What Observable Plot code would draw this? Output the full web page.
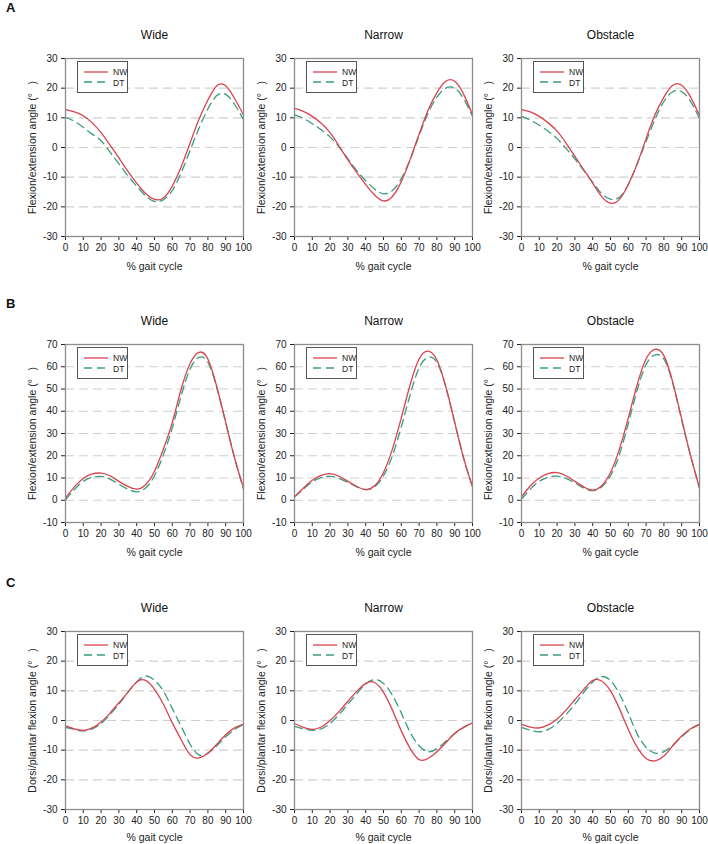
<!DOCTYPE html>
<html><head><meta charset="utf-8">
<script src="https://cdn.jsdelivr.net/npm/d3@7"></script>
<script src="https://cdn.jsdelivr.net/npm/@observablehq/plot@0.6"></script>
<style>
body{margin:0;background:#fff;font-family:"Liberation Sans",Arial,sans-serif;}
#fig{position:relative;width:708px;height:844px;overflow:hidden;}
.panel{position:absolute;}
.letter{position:absolute;font-weight:bold;font-size:13px;color:#111;}
.legend{position:absolute;width:51px;height:32px;border:1px solid #555;background:#fff;box-sizing:border-box;}
.legend svg{display:block;overflow:visible;}
</style></head><body><div id="fig"></div>
<script>
// ---- data ----
const gait = [0,5,10,15,20,25,30,35,40,45,50,55,60,65,70,75,80,85,90,95,100];
const conditions = ["Wide","Narrow","Obstacle"];
const seriesNames = ["NW","DT"];
const rowLetters = ["A","B","C"];
const yLabels = ["Flexion/extension angle (°\u00a0\u00a0\u00a0)","Flexion/extension angle (°\u00a0\u00a0\u00a0)","Dorsi/plantar flexion angle (°\u00a0\u00a0\u00a0)"];
const xTicks = [0,10,20,30,40,50,60,70,80,90,100];
const yTicksAC = [-30,-20,-10,0,10,20,30];
const yTicksB = [-10,0,10,20,30,40,50,60,70];

// Row A
const hipWideNW = [12.8,12.0,10.7,8.3,5.0,0.8,-3.5,-8.0,-12.0,-15.5,-17.5,-17.0,-13.0,-6.5,1.5,9.5,16.0,20.8,20.8,16.5,11.0];
const hipWideDT = [10.2,8.8,6.8,4.5,2.3,-1.5,-5.5,-9.5,-13.0,-16.3,-18.2,-17.6,-14.5,-8.5,-1.0,6.5,13.0,17.5,17.9,14.5,9.5];
const hipNarrowNW = [13.2,12.2,10.5,8.2,5.0,0.5,-4.2,-8.5,-12.5,-16.0,-18.0,-16.5,-11.5,-4.0,4.5,12.5,18.5,22.3,22.3,18.0,11.0];
const hipNarrowDT = [11.0,9.8,8.0,6.0,3.5,0.3,-3.8,-7.8,-11.2,-14.0,-15.6,-14.5,-10.5,-4.0,4.0,11.5,17.0,20.0,20.0,16.5,10.5];
const hipObstacleNW = [12.8,12.0,10.5,8.3,5.5,1.5,-3.0,-7.5,-12.0,-16.5,-18.8,-17.5,-12.5,-5.5,3.0,11.0,17.0,21.0,21.0,17.0,10.8];
const hipObstacleDT = [10.5,9.2,7.5,5.5,3.0,-0.3,-3.8,-7.8,-11.8,-15.5,-17.4,-16.8,-12.5,-5.5,2.0,9.5,15.5,18.8,18.8,15.5,9.8];
// Row B
const kneeWideNW = [1.0,6.0,9.8,11.8,12.2,11.0,8.5,6.2,5.0,7.0,13.0,23.0,35.0,50.0,61.5,66.5,63.5,51.0,35.0,19.0,5.5];
const kneeWideDT = [0.2,4.8,8.5,10.3,10.7,9.5,7.2,5.0,3.8,5.5,11.0,20.5,32.5,47.0,59.0,64.2,62.0,50.5,35.0,19.0,5.0];
const kneeNarrowNW = [1.5,5.5,9.0,11.2,12.0,10.8,8.5,6.2,4.8,6.5,12.5,23.0,37.0,52.0,63.5,67.0,63.0,51.0,35.0,19.0,6.0];
const kneeNarrowDT = [1.5,5.0,8.3,10.2,10.7,9.8,8.0,6.0,4.8,6.0,11.0,20.0,33.0,47.5,59.5,64.2,62.0,51.0,35.0,19.0,6.0];
const kneeObstacleNW = [1.5,6.5,10.0,12.0,12.4,11.0,8.5,6.0,4.5,6.5,12.5,23.0,37.0,52.0,63.5,67.8,65.0,53.0,36.5,20.0,5.5];
const kneeObstacleDT = [0.5,5.0,8.5,10.3,10.8,9.8,7.8,5.5,4.3,6.0,11.0,20.5,34.5,49.5,61.0,65.3,63.5,52.5,36.0,20.0,5.5];
// Row C
const ankleWideNW = [-1.8,-2.8,-3.3,-2.5,-0.5,2.5,6.0,9.5,13.0,13.5,10.5,5.5,-0.8,-6.5,-11.5,-12.6,-11.0,-8.0,-4.8,-2.5,-1.2];
const ankleWideDT = [-2.3,-3.0,-3.5,-2.8,-1.0,2.0,5.5,9.5,13.0,15.0,13.5,10.0,4.0,-2.0,-8.0,-11.6,-11.0,-8.5,-5.5,-3.0,-1.3];
const ankleNarrowNW = [-1.0,-2.3,-3.0,-2.2,0.0,3.0,6.5,9.8,12.5,12.8,9.5,3.5,-3.5,-9.5,-13.2,-12.8,-10.5,-7.5,-4.3,-2.3,-0.8];
const ankleNarrowDT = [-2.0,-2.8,-3.3,-2.8,-1.0,2.0,5.5,9.0,12.3,13.8,12.5,8.5,2.5,-4.0,-8.5,-10.5,-9.5,-7.0,-4.5,-2.3,-0.8];
const ankleObstacleNW = [-1.3,-2.2,-2.5,-1.5,0.5,3.5,7.0,10.5,13.5,13.3,10.0,4.0,-3.0,-9.0,-12.8,-13.6,-12.0,-8.5,-5.2,-2.8,-1.2];
const ankleObstacleDT = [-2.3,-3.3,-3.8,-3.0,-1.0,2.0,5.5,9.5,13.0,14.8,13.5,9.0,2.5,-4.5,-9.0,-11.0,-10.5,-8.3,-5.5,-3.0,-1.3];

// ---- layout ----
const NW_COLOR = "#d9434f", DT_COLOR = "#3a9c7b";
const M = {top:30, bottom:40, left:55, right:5};
const PW = 178, PH = 178;
const colLeft = [65, 294, 521];
const rowTop = [58, 344, 631];
const letterTop = [0, 296, 575];
const xLabelOffset = [30, 30, 28];

const rows = [
  {domain:[-30,30], ticks:yTicksAC, data:[[hipWideNW,hipWideDT],[hipNarrowNW,hipNarrowDT],[hipObstacleNW,hipObstacleDT]]},
  {domain:[-10,70], ticks:yTicksB, data:[[kneeWideNW,kneeWideDT],[kneeNarrowNW,kneeNarrowDT],[kneeObstacleNW,kneeObstacleDT]]},
  {domain:[-30,30], ticks:yTicksAC, data:[[ankleWideNW,ankleWideDT],[ankleNarrowNW,ankleNarrowDT],[ankleObstacleNW,ankleObstacleDT]]}
];

const fig = document.getElementById("fig");
const toPts = arr => gait.map((g,i)=>({g, v:arr[i]}));
const fmt = d => String(d);

rows.forEach((row, r) => {
  const letter = document.createElement("div");
  letter.className = "letter";
  letter.style.left = "6px"; letter.style.top = letterTop[r] + "px";
  letter.textContent = rowLetters[r];
  fig.appendChild(letter);
  const grid = row.ticks.slice(1, -1);
  conditions.forEach((cond, c) => {
    const [nw, dt] = row.data[c];
    const chart = Plot.plot({
      width: M.left + PW + M.right,
      height: M.top + PH + M.bottom,
      marginTop: M.top, marginBottom: M.bottom, marginLeft: M.left, marginRight: M.right,
      style: {fontFamily: '"Liberation Sans", Arial, sans-serif', fontSize: "10px", color: "#222", background: "transparent", overflow: "visible"},
      x: {domain: [0,100], ticks: xTicks, tickFormat: fmt, tickSize: 4, tickPadding: 3, label: null},
      y: {domain: row.domain, ticks: row.ticks, tickFormat: fmt, tickSize: 4, tickPadding: 4, label: null},
      marks: [
        Plot.ruleY(grid, {stroke: "#cfcfcf", strokeWidth: 1.2, strokeDasharray: "9,5"}),
        Plot.line(toPts(dt), {x: "g", y: "v", stroke: DT_COLOR, strokeWidth: 1.3, strokeDasharray: "8,5", curve: "natural"}),
        Plot.line(toPts(nw), {x: "g", y: "v", stroke: NW_COLOR, strokeWidth: 1.3, curve: "natural"}),
        Plot.frame({stroke: "#8c8c8c", strokeWidth: 1.3}),
        Plot.text([cond], {text: d => d, frameAnchor: "top", lineAnchor: "middle", dy: -23, fontSize: 12, fill: "#111"}),
        Plot.text(["% gait cycle"], {text: d => d, frameAnchor: "bottom", lineAnchor: "middle", dy: xLabelOffset[r], fontSize: 10.5, fill: "#222"}),
        Plot.text([yLabels[r]], {text: d => d, frameAnchor: "left", rotate: -90, textAnchor: "middle", lineAnchor: "middle", dx: -33, fontSize: 10.5, fill: "#222"})
      ]
    });
    const wrap = document.createElement("div");
    wrap.className = "panel";
    wrap.style.left = (colLeft[c] - M.left) + "px";
    wrap.style.top = (rowTop[r] - M.top) + "px";
    wrap.appendChild(chart);
    const lg = document.createElement("div");
    lg.className = "legend";
    lg.style.left = (M.left + 12) + "px";
    lg.style.top = (M.top + 3) + "px";
    lg.innerHTML = `<svg width="49" height="30" font-family="Liberation Sans, Arial, sans-serif" font-size="8.5" fill="#222">
      <line x1="6" x2="30" y1="10" y2="10" stroke="${NW_COLOR}" stroke-width="1.3"/>
      <text x="35" y="13">${seriesNames[0]}</text>
      <line x1="6" x2="30" y1="20" y2="20" stroke="${DT_COLOR}" stroke-width="1.3" stroke-dasharray="8,5"/>
      <text x="35" y="23.5">${seriesNames[1]}</text></svg>`;
    wrap.appendChild(lg);
    fig.appendChild(wrap);
  });
});
</script></body></html>
